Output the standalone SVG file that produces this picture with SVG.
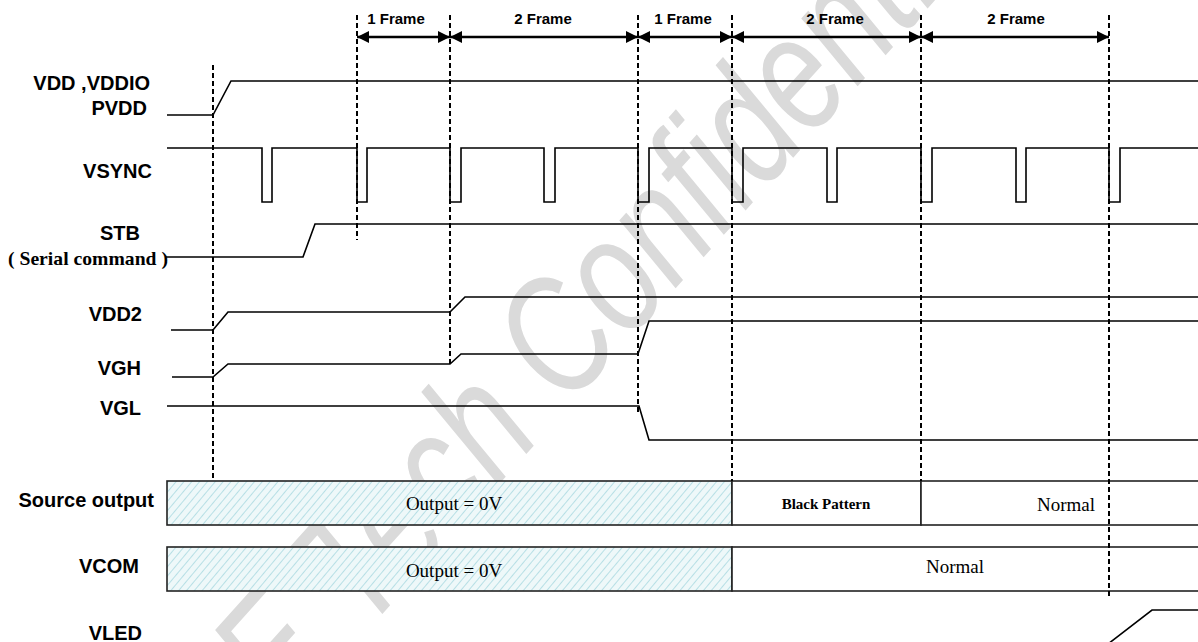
<svg xmlns="http://www.w3.org/2000/svg" width="1198" height="642" viewBox="0 0 1198 642">
<style>
.lbl{font-family:"Liberation Sans",Arial,sans-serif;font-weight:bold;font-size:20px;fill:#000}
.frm{font-family:"Liberation Sans",Arial,sans-serif;font-weight:bold;font-size:15px;fill:#000;text-anchor:middle}
.tm{font-family:"Liberation Serif","Times New Roman",serif;font-size:19px;fill:#000;text-anchor:middle}
.tmb{font-family:"Liberation Serif","Times New Roman",serif;font-size:15px;font-weight:bold;fill:#000;text-anchor:middle}
.sig{fill:none;stroke:#000;stroke-width:1.6;stroke-linejoin:miter}
.dash{fill:none;stroke:#000;stroke-width:2;stroke-dasharray:5,3}
.arr{fill:none;stroke:#000;stroke-width:2.6;marker-start:url(#ah);marker-end:url(#ah)}
.box{fill:#fff;stroke:#222;stroke-width:1.6}
.hat{fill:url(#hatch);stroke:#222;stroke-width:1.6}
.wm{font-family:"Liberation Sans",Arial,sans-serif;font-style:italic;font-size:165px;fill:#dadada}
</style>
<defs>
<marker id="ah" markerUnits="userSpaceOnUse" markerWidth="12" markerHeight="12" refX="12" refY="6" orient="auto-start-reverse">
<path d="M0,0 L12,6 L0,12 z" fill="#000"/>
</marker>
<pattern id="hatch" patternUnits="userSpaceOnUse" width="6" height="6" patternTransform="rotate(40)">
<rect width="6" height="6" fill="#eef8f9"/>
<line x1="0" y1="0" x2="0" y2="6" stroke="#a9d9e1" stroke-width="1.6"/>
</pattern>
</defs>
<rect width="1198" height="642" fill="#fff"/>
<g id="watermark">
<text class="wm" x="-569" y="0" transform="translate(575,400) rotate(-48) scale(0.76,1)">E Tech Confidential</text>
</g>
<g id="frame-labels">
<text class="frm" x="396" y="24">1 Frame</text>
<text class="frm" x="543" y="24">2 Frame</text>
<text class="frm" x="683" y="24">1 Frame</text>
<text class="frm" x="835" y="24">2 Frame</text>
<text class="frm" x="1016" y="24">2 Frame</text>
</g>
<g id="signal-labels">
<text class="lbl" x="150" y="90" text-anchor="end">VDD ,VDDIO</text>
<text class="lbl" x="147" y="115" text-anchor="end">PVDD</text>
<text class="lbl" x="152" y="178" text-anchor="end">VSYNC</text>
<text class="lbl" x="120" y="240" text-anchor="middle">STB</text>
<text x="8" y="265" font-family="Liberation Serif,'Times New Roman',serif" font-weight="bold" font-size="19.5" textLength="160" lengthAdjust="spacingAndGlyphs">( Serial command )</text>
<text class="lbl" x="142" y="321" text-anchor="end">VDD2</text>
<text class="lbl" x="141" y="375" text-anchor="end">VGH</text>
<text class="lbl" x="141" y="415" text-anchor="end">VGL</text>
<text class="lbl" x="154" y="507" text-anchor="end">Source output</text>
<text class="lbl" x="139" y="573" text-anchor="end">VCOM</text>
<text class="lbl" x="142" y="640" text-anchor="end">VLED</text>
</g>
<g id="sig-vdd"><path class="sig" d="M167,115 H213 L231,81 H1198"/></g>
<g id="sig-vsync"><path class="sig" d="M167,148 H262 V202 H272 V148 H357 V202 H367 V148 H450 V202 H461 V148 H544 V202 H555 V148 H638 V202 H649 V148 H732 V202 H743 V148 H827 V202 H837 V148 H921 V202 H932 V148 H1016 V202 H1026 V148 H1109 V202 H1120 V148 H1198"/></g>
<g id="sig-stb"><path class="sig" d="M166,257 H303 L315,224 H1198"/></g>
<g id="sig-vdd2"><path class="sig" d="M171,330 H213 L228,312 H450 L465,297 H1198"/></g>
<g id="sig-vgh"><path class="sig" d="M172,377 H213 L228,364 H450 L461,354 H638 L649,321 H1198"/></g>
<g id="sig-vgl"><path class="sig" d="M167,406 H639 L649,440 H1198"/></g>
<g id="source-output">
<rect class="hat" x="167" y="481" width="565" height="44"/>
<rect class="box" x="732" y="481" width="189" height="44"/>
<rect class="box" x="921" y="481" width="290" height="44"/>
<text class="tm" x="454" y="510">Output = 0V</text>
<text class="tmb" x="826" y="509">Black Pattern</text>
<text class="tm" x="1066" y="511">Normal</text>
</g>
<g id="vcom">
<rect class="hat" x="167" y="547" width="565" height="44"/>
<rect class="box" x="732" y="547" width="479" height="44"/>
<text class="tm" x="454" y="577">Output = 0V</text>
<text class="tm" x="955" y="573">Normal</text>
</g>
<g id="sig-vled"><path class="sig" d="M1108,644 L1152,610 H1198"/></g>
<g id="connectors">
<path class="arr" d="M357,37 H450"/>
<path class="arr" d="M450,37 H638"/>
<path class="arr" d="M638,37 H732"/>
<path class="arr" d="M732,37 H921"/>
<path class="arr" d="M921,37 H1109"/>
<path class="dash" d="M213,65 V480"/>
<path class="dash" d="M357,15 V240"/>
<path class="dash" d="M450,15 V364"/>
<path class="dash" d="M638,15 V412"/>
<path class="dash" d="M732,15 V481"/>
<path class="dash" d="M921,15 V481"/>
<path class="dash" d="M1109,15 V597"/>
</g>
</svg>
